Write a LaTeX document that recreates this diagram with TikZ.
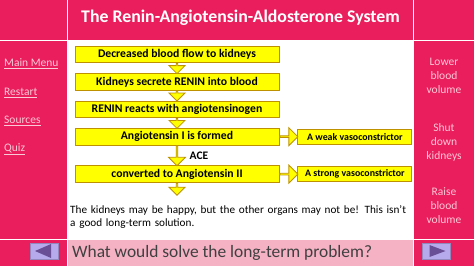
\documentclass[tikz,border=0pt]{standalone}
\usepackage{fontspec}
\setmainfont{Carlito}
\usepackage{tikz}
\usetikzlibrary{shapes.arrows, positioning, calc}
\definecolor{slidepink}{RGB}{234,30,92}
\definecolor{palepink}{RGB}{244,178,196}
\definecolor{linkpink}{RGB}{250,200,215}
\definecolor{boxyellow}{RGB}{255,255,0}
\definecolor{boxgold}{RGB}{190,145,0}
\definecolor{navlilac}{RGB}{182,170,236}
\definecolor{navpurple}{RGB}{105,80,150}
\definecolor{asktext}{RGB}{64,64,64}

% block arrow laid between two anchors
\newcommand\flowlink[4]{%
  \path let \p1=(#2), \p2=(#3), \n1={veclen(\x2-\x1,\y2-\y1)} in
    node[#1, minimum height=\n1, anchor=tail] (#4) at (\p1) {};}

\begin{document}
\begin{tikzpicture}[
  x=1pt, y=-1pt,
  stepbox/.style={draw=boxgold, fill=boxyellow, line width=0.9pt, minimum width=204pt, minimum height=16.5pt, inner sep=0pt, font=\bfseries\fontsize{11.7}{13}\selectfont},
  effectbox/.style={draw=boxgold, fill=boxyellow, line width=0.9pt, minimum width=114pt, minimum height=15pt, inner sep=0pt, font=\bfseries\fontsize{9.9}{11}\selectfont},
  flowdown/.style={single arrow, draw=boxgold, fill=boxyellow, line width=0.8pt, shape border rotate=270, minimum width=16pt, single arrow head extend=4pt, inner sep=0pt},
  flowright/.style={single arrow, draw=boxgold, fill=boxyellow, line width=0.8pt, minimum width=18pt, single arrow head extend=4pt, inner sep=0pt},
  menulink/.style={anchor=west, inner sep=0pt, text=linkpink, font=\fontsize{11.5}{13}\selectfont},
  sidenote/.style={align=center, text=linkpink, font=\fontsize{11.5}{14}\selectfont},
  navbutton/.style={fill=navlilac, draw=navlilac!80!black, line width=0.4pt, minimum width=28pt, minimum height=16pt, inner sep=0pt},
]
\useasboundingbox (0,0) rectangle (474,266);
\fill[white] (0,0) rectangle (474,266);

% Frame cells
\fill[slidepink] (0,0) rectangle (66.5,39.5);
\fill[slidepink] (68,0) rectangle (412.5,39.5);
\fill[slidepink] (414,0) rectangle (474,39.5);
\fill[slidepink] (0,41) rectangle (66.5,238.5);
\fill[slidepink] (414,41) rectangle (474,238.5);
\fill[slidepink] (0,240) rectangle (66.5,266);
\fill[palepink] (68,240) rectangle (412.5,266);
\fill[slidepink] (414,240) rectangle (474,266);

% Title
\node[text=white, font=\bfseries\fontsize{17.8}{20}\selectfont] (title) at (240.5,18) {The Renin-Angiotensin-Aldosterone System};

% Menu
\node[menulink] (mainmenu) at (4,64) {\underline{Main Menu}};
\node[menulink] (restart) at (4,93) {\underline{Restart}};
\node[menulink] (sources) at (4,121) {\underline{Sources}};
\node[menulink] (quiz) at (4,149) {\underline{Quiz}};

% Side choices
\node[sidenote] (lower) at (444,76) {Lower\\blood\\volume};
\node[sidenote] (shut) at (444,142) {Shut\\down\\kidneys};
\node[sidenote] (raise) at (444,206) {Raise\\blood\\volume};

% Steps
\node[stepbox] (flow) at (177,54.5) {Decreased blood flow to kidneys};
\node[stepbox, below=10pt of flow] (renin) {Kidneys secrete RENIN into blood};
\node[stepbox, below=10pt of renin] (react) {RENIN reacts with angiotensinogen};
\node[stepbox, below=10pt of react] (ang1) {Angiotensin I is formed};
\node[stepbox, below=20pt of ang1] (ang2) {converted to Angiotensin II};
\node[effectbox, right=18pt of ang1] (weak) {A weak vasoconstrictor};
\node[effectbox, right=18pt of ang2] (strong) {A strong vasoconstrictor};
\coordinate[below=12pt of ang2] (flowend);

% Arrows
\flowlink{flowdown}{flow.south}{renin.north}{a12}
\flowlink{flowdown}{renin.south}{react.north}{a23}
\flowlink{flowdown}{react.south}{ang1.north}{a34}
\flowlink{flowdown, minimum width=17pt}{ang1.south}{ang2.north}{a45}
\flowlink{flowdown}{ang2.south}{flowend}{a5e}
\flowlink{flowright}{ang1.east}{weak.west}{a4w}
\flowlink{flowright}{ang2.east}{strong.west}{a5s}
\node[right=8pt of a45, font=\bfseries\fontsize{11.5}{12}\selectfont] (ace) {ACE};

% Comment text
\node[anchor=north west, text width=342pt, align=left, inner sep=0pt, font=\fontsize{11.2}{13}\selectfont] (comment) at (70,205) {The kidneys may be happy, but the other organs may not be! This isn’t a good long-term solution.};

% Question bar
\node[anchor=west, text=asktext, inner sep=0pt, font=\fontsize{17.4}{20}\selectfont] (ask) at (72,252.5) {What would solve the long-term problem?};
\node[navbutton] (back) at (44,251) {};
\node[navbutton] (next) at (436.5,251) {};
\fill[navpurple] ($(back.center)+(-9,0)$) -- ($(back.center)+(7,-7)$) -- ($(back.center)+(7,7)$) -- cycle;
\fill[navpurple] ($(next.center)+(9,0)$) -- ($(next.center)+(-7,-6)$) -- ($(next.center)+(-7,6)$) -- cycle;
\end{tikzpicture}
\end{document}
